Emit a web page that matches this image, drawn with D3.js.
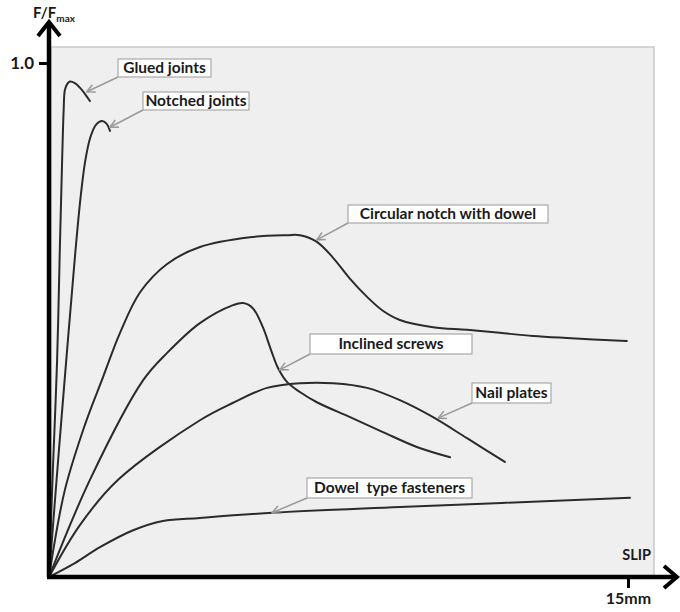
<!DOCTYPE html>
<html>
<head>
<meta charset="utf-8">
<script src="https://cdn.jsdelivr.net/npm/d3@7/dist/d3.min.js"></script>
<style>
  html, body { margin: 0; padding: 0; background: #ffffff; }
  svg { display: block; }
  text { font-family: Lato, "Open Sans", sans-serif; font-weight: 700; fill: #1a1a1a; }
</style>
</head>
<body>
<svg id="chart" width="680" height="612"></svg>
<script>
// ---------- DATA (slip in mm, force as F/Fmax) ----------
const gluedSlip   = [0, 0.10, 0.21, 0.28, 0.34, 0.38, 0.41, 0.47, 0.54, 0.67, 0.80, 0.93, 1.06];
const gluedForce  = [0, 0.208, 0.422, 0.636, 0.811, 0.909, 0.947, 0.959, 0.964, 0.961, 0.952, 0.940, 0.926];

const notchedSlip  = [0, 0.25, 0.50, 0.68, 0.82, 0.94, 1.07, 1.22, 1.37, 1.49, 1.58];
const notchedForce = [0, 0.24, 0.47, 0.63, 0.74, 0.81, 0.855, 0.88, 0.887, 0.882, 0.868];

const circularSlip  = [0, 0.41, 0.93, 1.40, 1.84, 2.36, 3.06, 3.91, 5.21, 6.17, 6.50, 6.94, 7.36, 7.80, 8.24, 8.65, 9.09, 9.95, 10.83, 11.68, 12.54, 13.42, 14.97];
const circularForce = [0, 0.169, 0.296, 0.389, 0.475, 0.554, 0.609, 0.642, 0.661, 0.665, 0.665, 0.652, 0.621, 0.580, 0.545, 0.518, 0.500, 0.486, 0.481, 0.475, 0.469, 0.465, 0.459];

const inclinedSlip  = [0, 1.06, 2.44, 3.06, 3.91, 4.77, 5.03, 5.28, 5.54, 5.75, 5.93, 6.17, 6.50, 6.94, 7.80, 8.65, 9.53, 10.39];
const inclinedForce = [0, 0.189, 0.383, 0.436, 0.494, 0.529, 0.533, 0.523, 0.486, 0.442, 0.407, 0.379, 0.360, 0.340, 0.311, 0.282, 0.253, 0.233];

const nailSlip  = [0, 0.80, 1.79, 3.91, 4.77, 5.65, 6.50, 7.36, 8.24, 9.09, 9.95, 10.83, 11.81];
const nailForce = [0, 0.101, 0.189, 0.305, 0.339, 0.368, 0.377, 0.377, 0.368, 0.344, 0.311, 0.270, 0.224];

const dowelSlip  = [0, 0.67, 1.32, 2.18, 2.95, 3.91, 5.80, 9.09, 15.05];
const dowelForce = [0, 0.027, 0.058, 0.091, 0.109, 0.115, 0.125, 0.136, 0.154];

const labels    = ["Glued joints", "Notched joints", "Circular notch with dowel", "Inclined screws", "Nail plates", "Dowel  type fasteners"];
const tipSlip   = [0.98, 1.58, 6.94, 5.98, 10.08, 5.78];
const tipForce  = [0.944, 0.875, 0.656, 0.403, 0.309, 0.125];

const xTickValues = [15];
const xTickLabels = ["15mm"];
const yTickValues = [1.0];
const yTickLabels = ["1.0"];

// ---------- LAYOUT ----------
const svg = d3.select("#chart");
const x = d3.scaleLinear().domain([0, 15]).range([49, 628]);
const y = d3.scaleLinear().domain([0, 1]).range([577, 63]);

// label boxes (pixel layout)
const boxes = [
  {x: 118, y: 59, w: 93, h: 18},
  {x: 143, y: 92, w: 106, h: 18},
  {x: 348, y: 205, w: 200, h: 18},
  {x: 310, y: 334, w: 162, h: 20},
  {x: 472, y: 383, w: 79, h: 20},
  {x: 307, y: 478, w: 165, h: 20}
];

// plot background
svg.append("rect")
  .attr("x", 51).attr("y", 47)
  .attr("width", 603).attr("height", 530)
  .attr("fill", "#efefef")
  .attr("stroke", "#c9c9c9")
  .attr("stroke-width", 1.5);

// curves
const series = [
  [gluedSlip, gluedForce],
  [notchedSlip, notchedForce],
  [circularSlip, circularForce],
  [inclinedSlip, inclinedForce],
  [nailSlip, nailForce],
  [dowelSlip, dowelForce]
];
const line = d3.line()
  .x(d => x(d[0])).y(d => y(d[1]))
  .curve(d3.curveCatmullRom.alpha(0.5));

svg.append("g").selectAll("path")
  .data(series.map(([s, f]) => s.map((v, i) => [v, f[i]])))
  .join("path")
  .attr("d", line)
  .attr("fill", "none")
  .attr("stroke", "#2b2b2b")
  .attr("stroke-width", 2)
  .attr("stroke-linecap", "round")
  .attr("stroke-linejoin", "round");

// leader arrows
const defs = svg.append("defs");
defs.append("marker")
  .attr("id", "arr")
  .attr("viewBox", "0 0 10 10")
  .attr("refX", 9).attr("refY", 5)
  .attr("markerWidth", 10).attr("markerHeight", 10)
  .attr("markerUnits", "userSpaceOnUse")
  .attr("orient", "auto")
  .append("path")
  .attr("d", "M1,1 L9,5 L1,9")
  .attr("fill", "none")
  .attr("stroke", "#9a9a9a")
  .attr("stroke-width", 1.6);

const ann = svg.append("g");
labels.forEach((lab, i) => {
  const b = boxes[i];
  ann.append("line")
    .attr("x1", b.x).attr("y1", b.y + b.h)
    .attr("x2", x(tipSlip[i])).attr("y2", y(tipForce[i]))
    .attr("stroke", "#9a9a9a")
    .attr("stroke-width", 1.5)
    .attr("marker-end", "url(#arr)");
  ann.append("rect")
    .attr("x", b.x).attr("y", b.y)
    .attr("width", b.w).attr("height", b.h)
    .attr("fill", "#ffffff")
    .attr("stroke", "#a8a8a8")
    .attr("stroke-width", 1.2);
  ann.append("text")
    .attr("x", b.x + b.w / 2).attr("y", b.y + b.h / 2)
    .attr("dy", "0.35em")
    .attr("text-anchor", "middle")
    .style("font-size", "15.5px")
    .style("white-space", "pre")
    .attr("xml:space", "preserve")
    .text(lab);
});

// axes
const xAxis = d3.axisBottom(x)
  .tickValues(xTickValues)
  .tickFormat((d, i) => xTickLabels[i])
  .tickSize(11).tickPadding(5);
const gx = svg.append("g").attr("transform", "translate(0,577)").call(xAxis);
gx.select(".domain").remove();
gx.selectAll(".tick line").attr("stroke", "#000").attr("stroke-width", 3);
gx.selectAll(".tick text").style("font-size", "16px").style("font-family", "Lato, sans-serif").style("font-weight", 700).attr("fill", "#1a1a1a");

const yAxis = d3.axisLeft(y)
  .tickValues(yTickValues)
  .tickFormat((d, i) => yTickLabels[i])
  .tickSize(10).tickPadding(5);
const gy = svg.append("g").attr("transform", "translate(49,0)").call(yAxis);
gy.select(".domain").remove();
gy.selectAll(".tick line").attr("stroke", "#000").attr("stroke-width", 3);
gy.selectAll(".tick text").style("font-size", "17px").style("font-family", "Lato, sans-serif").style("font-weight", 700).attr("fill", "#1a1a1a");

// axis lines with arrows
const axisG = svg.append("g")
  .attr("fill", "none").attr("stroke", "#000")
  .attr("stroke-width", 4.5)
  .attr("stroke-linecap", "butt")
  .attr("stroke-linejoin", "miter");
axisG.append("path").attr("d", `M49,${577} L49,23`);
axisG.append("path").attr("d", `M38,36 L49,22 L60,36`).attr("stroke-width", 4);
axisG.append("path").attr("d", `M47,577 L676,577`);
axisG.append("path").attr("d", `M664,566 L677,577 L664,588`).attr("stroke-width", 4);

// axis titles
const yt = svg.append("text").attr("x", 33).attr("y", 18).style("font-size", "15px");
yt.append("tspan").text("F/F");
yt.append("tspan").attr("dy", 4).style("font-size", "10px").text("max");

svg.append("text")
  .attr("x", 651).attr("y", 560)
  .attr("text-anchor", "end")
  .style("font-size", "14.5px")
  .text("SLIP");
</script>
</body>
</html>
